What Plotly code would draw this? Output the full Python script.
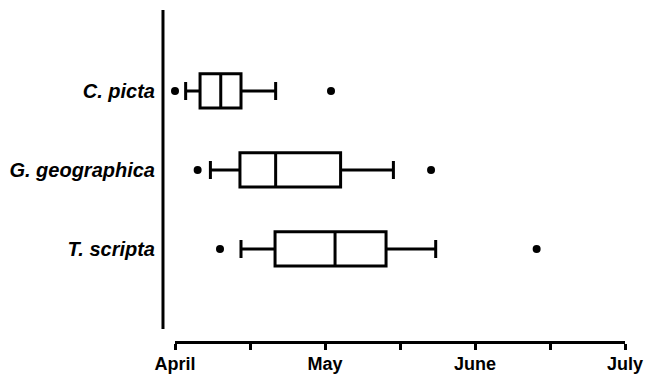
import plotly.graph_objects as go

# Categories (bottom to top)
species = ["T. scripta", "G. geographica", "C. picta"]

# Values in months after April 1 (0 = April, 1 = May, 2 = June, 3 = July)
lower_fence = [0.44, 0.236, 0.071]
q1 = [0.667, 0.433, 0.167]
median = [1.067, 0.671, 0.305]
q3 = [1.407, 1.104, 0.44]
upper_fence = [1.738, 1.456, 0.671]

outlier_species = ["T. scripta", "T. scripta", "G. geographica", "G. geographica", "C. picta", "C. picta"]
outlier_values = [0.30, 2.411, 0.151, 1.707, 0.0, 1.04]

tick_values = [0, 1, 2, 3]
tick_labels = ["April", "May", "June", "July"]

FONT = "Liberation Sans, Arial, sans-serif"

fig = go.Figure()
fig.add_trace(go.Box(
    y=species,
    q1=q1, median=median, q3=q3,
    lowerfence=lower_fence, upperfence=upper_fence,
    orientation="h",
    fillcolor="white",
    line=dict(color="black", width=3),
    whiskerwidth=0.53,
    boxpoints=False,
    showlegend=False,
    hoverinfo="skip",
))
fig.add_trace(go.Scatter(
    x=outlier_values, y=outlier_species,
    mode="markers",
    marker=dict(color="black", size=8),
    cliponaxis=False,
    showlegend=False,
    hoverinfo="skip",
))

fig.update_layout(
    width=646, height=381,
    margin=dict(l=175, r=21, t=10, b=40, autoexpand=False),
    plot_bgcolor="white", paper_bgcolor="white",
    boxgap=0.38,
    font=dict(family=FONT, color="black"),
    shapes=[dict(
        type="line", xref="paper", yref="paper",
        x0=-0.0267, x1=-0.0267, y0=0.036, y1=1.0,
        line=dict(color="black", width=3),
    )],
)
fig.update_xaxes(
    range=[0, 3], automargin=False,
    tickvals=tick_values, ticktext=tick_labels,
    showline=True, linecolor="black", linewidth=3,
    ticks="outside", ticklen=6, tickwidth=3, tickcolor="black",
    minor=dict(dtick=0.5, tick0=0, ticks="outside", ticklen=6, tickwidth=3, tickcolor="black"),
    tickfont=dict(family=FONT, size=18, weight="bold", color="black"),
    ticklabelstandoff=-2,
    showgrid=False, zeroline=False,
)
fig.update_yaxes(
    type="category", automargin=False,
    categoryorder="array", categoryarray=species,
    range=[-1.165, 3.025],
    showline=False, showgrid=False, zeroline=False,
    ticks="", ticklabelstandoff=19,
    tickfont=dict(family=FONT, size=20, weight="bold", style="italic", color="black"),
)

fig.write_html(
    "out.html",
    config={"displayModeBar": False, "staticPlot": True},
    post_script="document.body.style.margin='0';document.body.style.overflow='hidden';",
)
